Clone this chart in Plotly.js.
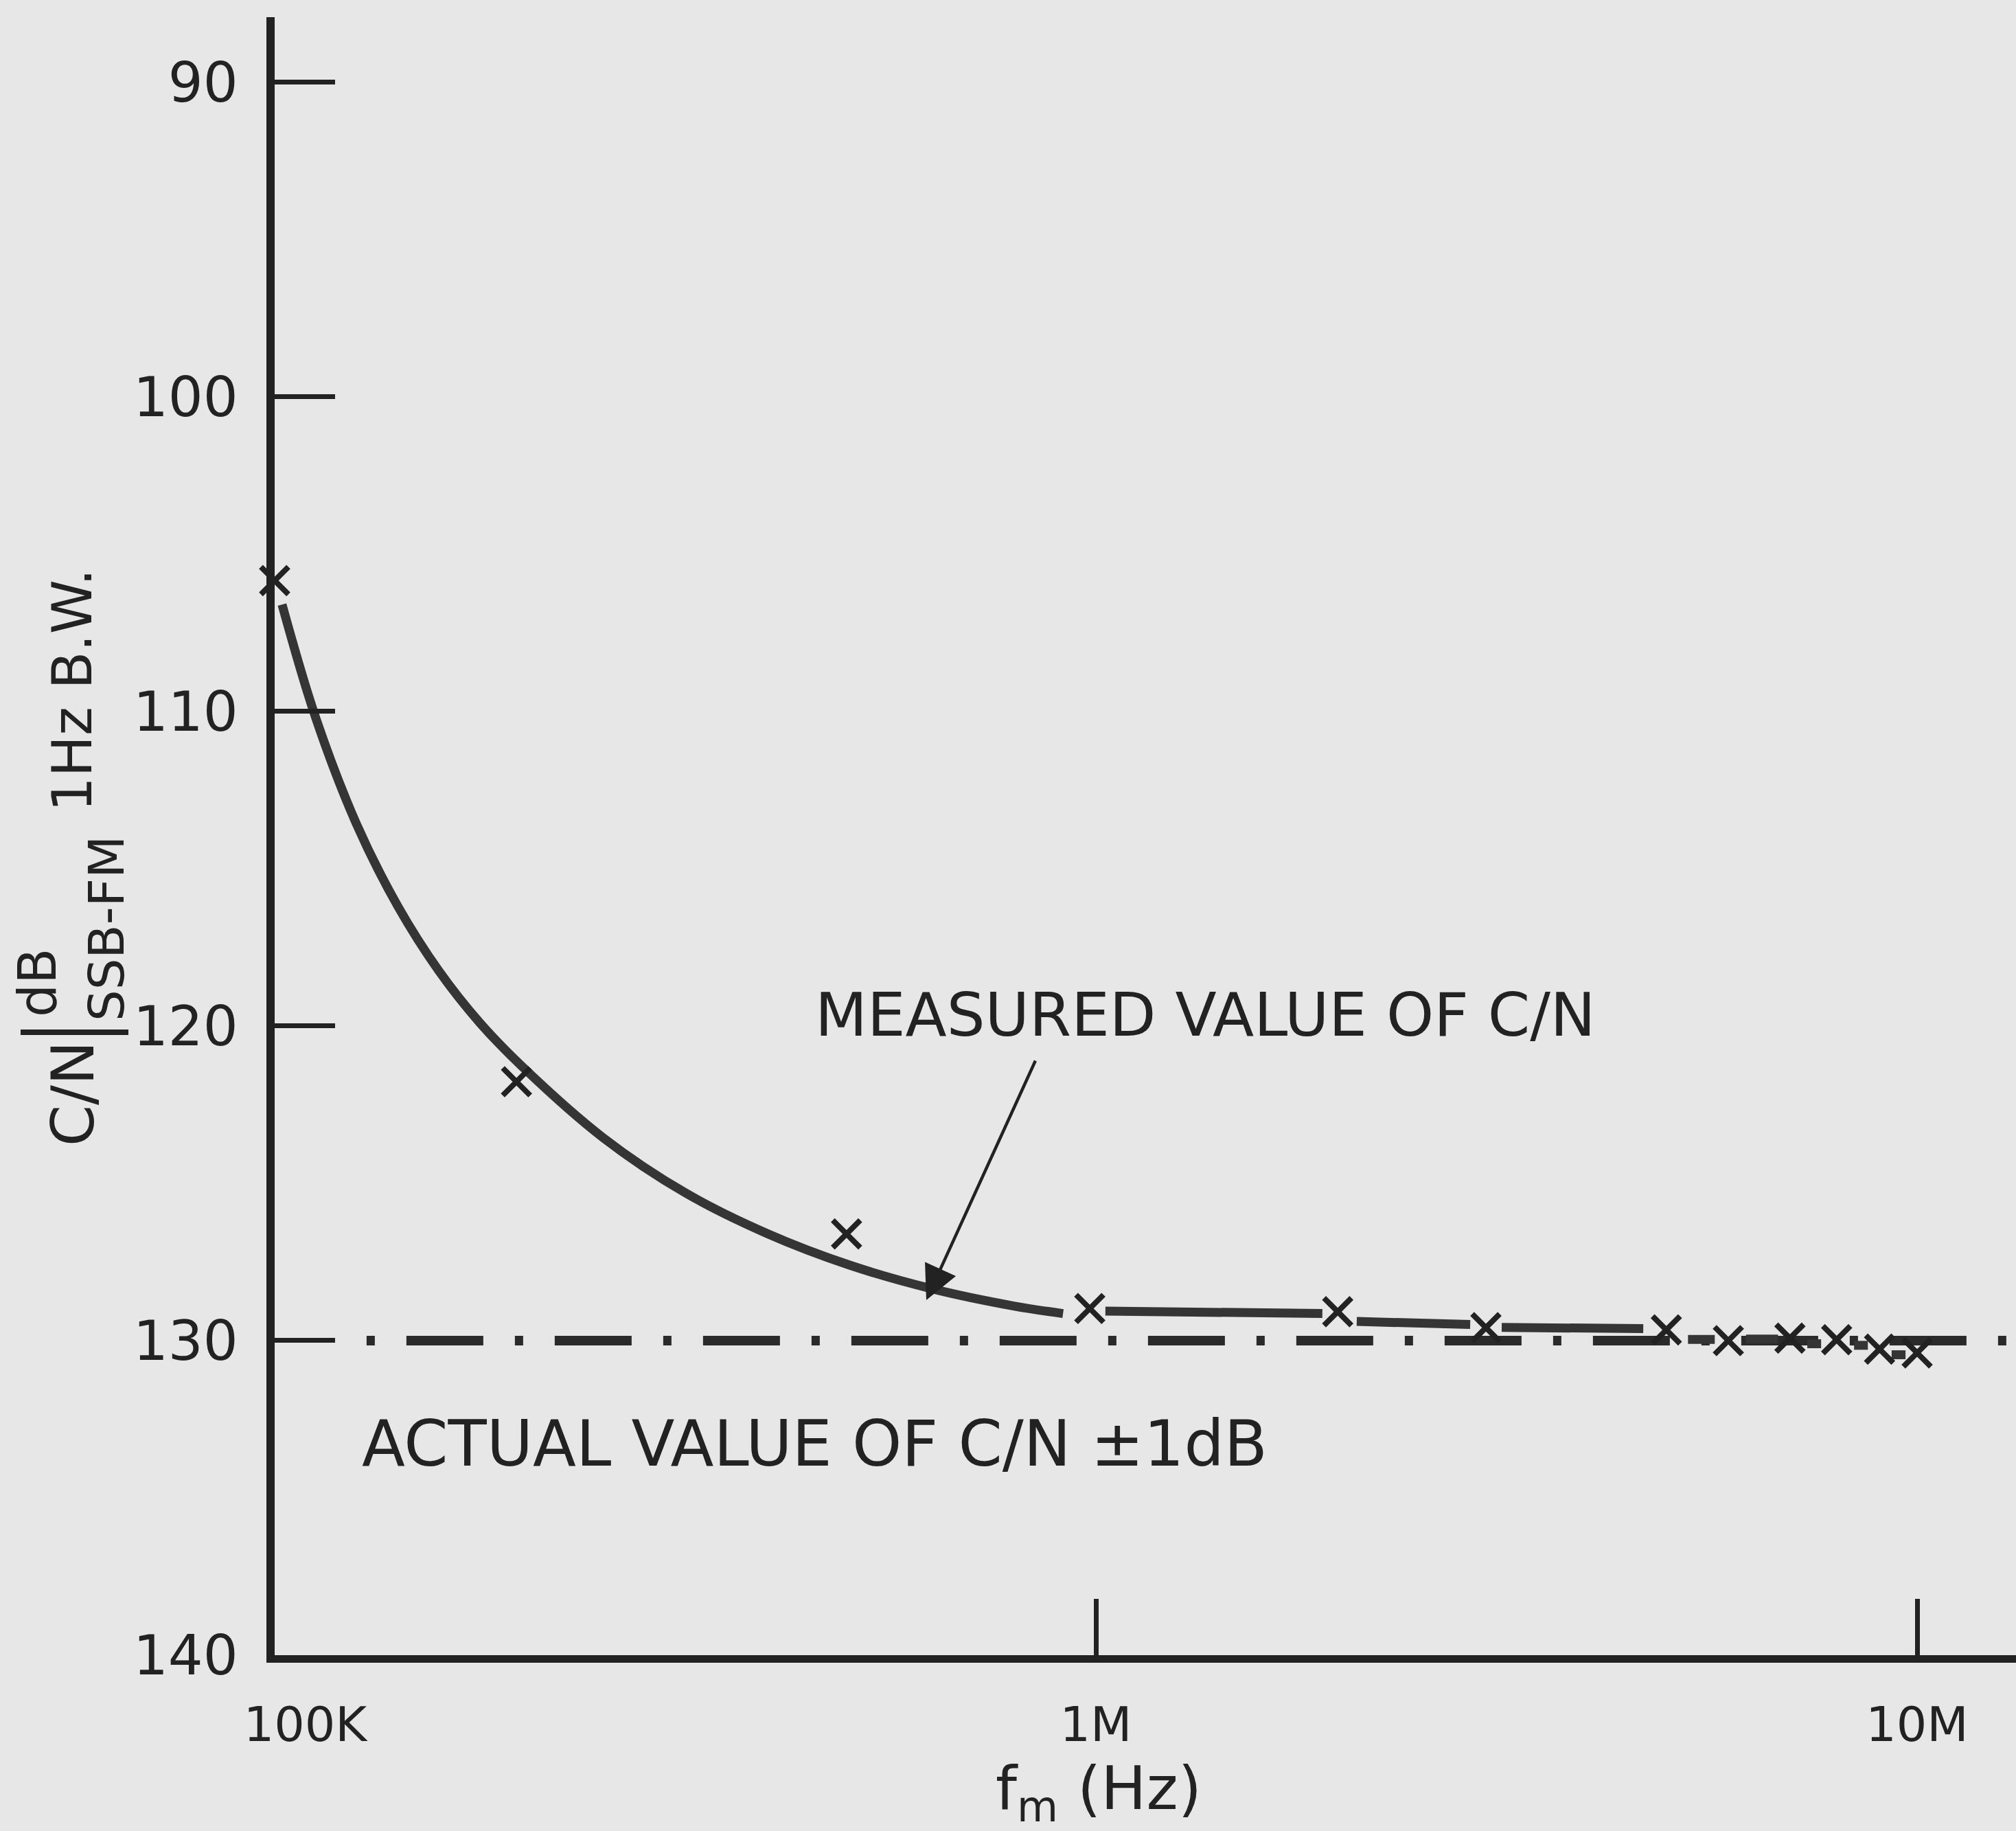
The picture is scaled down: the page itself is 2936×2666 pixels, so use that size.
<!DOCTYPE html>
<html>
<head>
<meta charset="utf-8">
<script src="https://cdn.plot.ly/plotly-3.0.1.min.js"></script>
<style>html,body{margin:0;padding:0;background:#e7e7e7;}</style>
</head>
<body>
<div id="chart" style="width:2936px;height:2666px;"></div>
<script>
// ---- data ----
// measured C/N points (x markers)
const markerFreq = [100000, 197000, 497000, 983000, 1970000, 2985000, 4950000, 5890000, 7000000, 7980000, 9000000, 10000000];
const markerCN   = [105.84, 121.77, 126.61, 128.98, 129.08, 129.59, 129.66, 130.0, 129.92, 129.97, 130.27, 130.39];

// drawn "measured value" curve (gaps where the markers sit)
const curveFreq = [102100, 112200, 125900, 141300, 158500, 177800, 199500, 251200, 316200, 398100, 501200, 631000, 794300, 912000,
                   null, 1027000, 1887000,
                   null, 2078000, 2856000,
                   null, 3120000, 4640000,
                   null, 5260000, 5670000,
                   null, 6190000, 6770000,
                   null, 7350000, 7640000,
                   null, 8380000, 8710000,
                   null, 9310000, 9680000];
const curveCN   = [106.6, 110.2, 113.6, 116.2, 118.25, 119.9, 121.25, 123.55, 125.3, 126.6, 127.6, 128.35, 128.9, 129.14,
                   null, 129.06, 129.14,
                   null, 129.39, 129.49,
                   null, 129.58, 129.62,
                   null, 129.96, 129.96,
                   null, 129.95, 129.95,
                   null, 130.1, 130.1,
                   null, 130.15, 130.15,
                   null, 130.45, 130.45];

// actual value of C/N (dash-dot reference line)
const actualFreq = [129400, 13200000];
const actualCN   = [130, 130];

// axis ticks
const freqTicks    = [100000, 1000000, 10000000];
const freqTickText = ['\u00a0\u00a0\u00a0\u00a0100K', '1M', '10M'];
const cnTicks      = [90, 100, 110, 120, 130, 140];
const cnTickText   = ['90\u00a0', '100\u00a0', '110\u00a0', '120\u00a0', '130\u00a0', '140\u00a0'];

// ---- drawing ----
const ink = '#222222';
const bg = '#e7e7e7';
const font = 'DejaVu Sans';

const traces = [
  {
    x: actualFreq, y: actualCN, type: 'scatter', mode: 'lines',
    line: {color: '#2a2a2a', width: 14, dash: '12px,46px,112px,46px'},
    hoverinfo: 'skip', showlegend: false
  },
  {
    x: curveFreq, y: curveCN, type: 'scatter', mode: 'lines',
    line: {color: '#353535', width: 13, shape: 'spline', smoothing: 1},
    connectgaps: false, showlegend: false
  },
  {
    x: markerFreq, y: markerCN, type: 'scatter', mode: 'markers',
    marker: {symbol: 'x-thin-open', size: 40, color: ink, line: {color: ink, width: 8}},
    cliponaxis: false, showlegend: false
  }
];

const layout = {
  width: 2936, height: 2666,
  margin: {l: 400, r: 0, t: 25, b: 256, pad: 0},
  paper_bgcolor: bg, plot_bgcolor: bg,
  font: {family: font, color: ink},
  showlegend: false,
  xaxis: {
    type: 'log', range: [5, 7.1204],
    tickvals: freqTicks, ticktext: freqTickText,
    ticks: 'inside', ticklen: 82, tickwidth: 7, tickcolor: ink,
    showline: true, linewidth: 11, linecolor: ink,
    showgrid: false, zeroline: false,
    tickfont: {family: font, size: 70, color: ink},
    ticklabelstandoff: 30
  },
  yaxis: {
    range: [140, 87.93],
    tickvals: cnTicks, ticktext: cnTickText,
    ticks: 'inside', ticklen: 88, tickwidth: 7, tickcolor: ink,
    showline: true, linewidth: 12, linecolor: ink,
    showgrid: false, zeroline: false,
    tickfont: {family: font, size: 80, color: ink}
  },
  annotations: [
    {xref: 'paper', yref: 'paper', x: 0.4732, y: -0.0835, text: 'f<sub>m</sub> (Hz)', showarrow: false,
     xanchor: 'center', yanchor: 'middle', font: {family: font, size: 88, color: ink}},
    {xref: 'x', yref: 'y', x: 6.133, y: 119.65, text: 'MEASURED VALUE OF C/N', showarrow: false,
     xanchor: 'center', yanchor: 'middle', font: {family: font, size: 88, color: ink}},
    {xref: 'x', yref: 'y', x: 5.7935, y: 128.71, axref: 'x', ayref: 'y', ax: 5.9273, ay: 121.05,
     text: '\u00a0', font: {size: 2}, showarrow: true, arrowhead: 2, arrowsize: 2.2, arrowwidth: 4.5,
     arrowcolor: ink, standoff: 0, startstandoff: 0},
    {xref: 'x', yref: 'y', x: 5.658, y: 133.28, text: 'ACTUAL VALUE OF C/N ±1dB', showarrow: false,
     xanchor: 'center', yanchor: 'middle', font: {family: font, size: 92, color: ink}},
    // y-axis title pieces (rotated)
    {xref: 'paper', yref: 'paper', x: -0.1159, y: 0.3426, text: 'C/N', textangle: -90, showarrow: false,
     xanchor: 'center', yanchor: 'middle', font: {family: font, size: 86, color: ink}},
    {xref: 'paper', yref: 'paper', x: -0.1360, y: 0.4105, text: 'dB', textangle: -90, showarrow: false,
     xanchor: 'center', yanchor: 'middle', font: {family: font, size: 76, color: ink}},
    {xref: 'paper', yref: 'paper', x: -0.0966, y: 0.4436, text: 'SSB-FM', textangle: -90, showarrow: false,
     xanchor: 'center', yanchor: 'middle', font: {family: font, size: 72, color: ink}},
    {xref: 'paper', yref: 'paper', x: -0.1159, y: 0.5891, text: '1Hz B.W.', textangle: -90, showarrow: false,
     xanchor: 'center', yanchor: 'middle', font: {family: font, size: 80, color: ink}}
  ],
  shapes: [
    {type: 'line', xref: 'paper', yref: 'paper', x0: -0.1459, x1: -0.0840, y0: 0.3803, y1: 0.3803,
     line: {color: ink, width: 8}}
  ]
};

Plotly.newPlot('chart', traces, layout, {staticPlot: true, displayModeBar: false});
</script>
</body>
</html>
